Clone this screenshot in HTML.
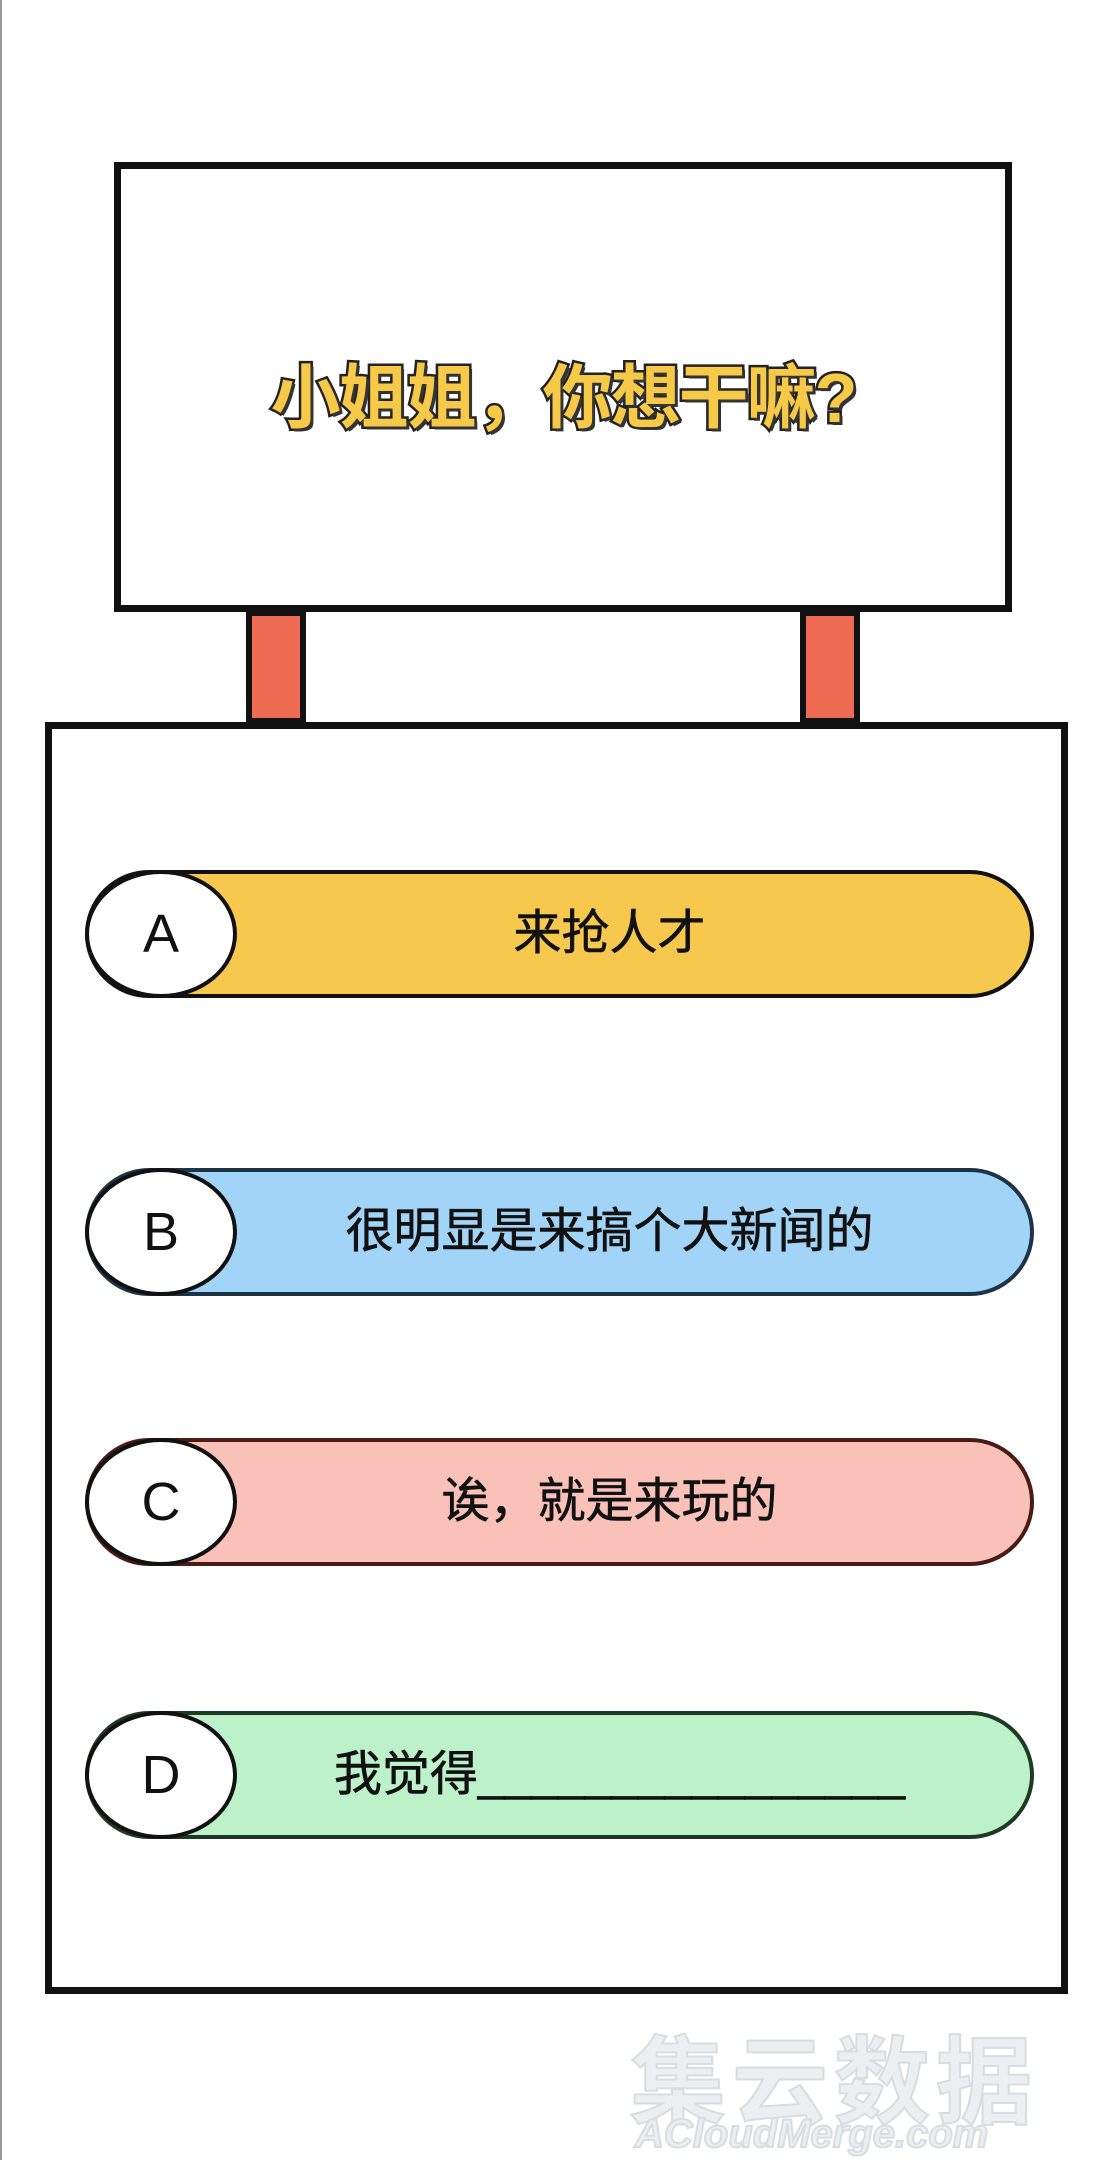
<!DOCTYPE html>
<html><head><meta charset="utf-8"><style>
html,body{margin:0;padding:0}
body{width:1106px;height:2160px;position:relative;background:#fff;overflow:hidden;font-family:"Liberation Sans","Noto Sans CJK SC",sans-serif}
.abs{position:absolute;box-sizing:border-box}
.sign{left:114px;top:162px;width:898px;height:450px;border:7px solid #111;background:#fff}
.post{top:610px;width:60px;height:114px;border:6px solid #111;background:#ef6a52}
.main{left:45px;top:722px;width:1023px;height:1272px;border:7px solid #111;background:#fff}
.title{left:114px;width:898px;top:342px;text-align:center;font-size:70px;font-weight:bold;color:#f7c948;-webkit-text-stroke:5px #222;paint-order:stroke fill;letter-spacing:-2px;text-shadow:3px 3px 0 #333}
.pill{left:85px;width:949px;height:128px;border:4px solid #111;border-radius:64px;font-size:48px;color:#111;line-height:120px;text-align:center;padding-left:100px;-webkit-text-stroke:0.6px #111}
.circ{left:85px;width:152px;height:128px;border:4px solid #111;border-radius:50%;background:#fff;font-size:54px;line-height:120px;text-align:center;color:#111}
.wm{font-weight:bold;color:#eceff1;-webkit-text-stroke:2px #d8dde0}
</style></head><body>
<div class="abs" style="left:0;top:0;width:2px;height:2160px;background:#999"></div>
<div class="abs sign"></div>
<div class="abs title">小姐姐，你想干嘛?</div>
<div class="abs post" style="left:246px"></div>
<div class="abs post" style="left:800px"></div>
<div class="abs main"></div>

<div class="abs pill" style="top:870px;background:#f6c84e">来抢人才</div>
<div class="abs circ" style="top:870px">A</div>

<div class="abs pill" style="top:1168px;background:#a2d4f8;border-color:#1d3346">很明显是来搞个大新闻的</div>
<div class="abs circ" style="top:1168px">B</div>

<div class="abs pill" style="top:1438px;background:#f9c1b7;border-color:#4a1a14">诶，就是来玩的</div>
<div class="abs circ" style="top:1438px">C</div>

<div class="abs pill" style="top:1711px;background:#bdf1c9;border-color:#1d3a22;padding-left:120px">我觉得________________</div>
<div class="abs circ" style="top:1711px">D</div>

<div class="abs wm" style="left:630px;top:2005px;font-size:96px;letter-spacing:6px;font-family:'Noto Sans CJK SC',sans-serif">集云数据</div>
<div class="abs wm" style="left:635px;top:2112px;font-size:40px;font-style:italic">ACloudMerge.com</div>
</body></html>
